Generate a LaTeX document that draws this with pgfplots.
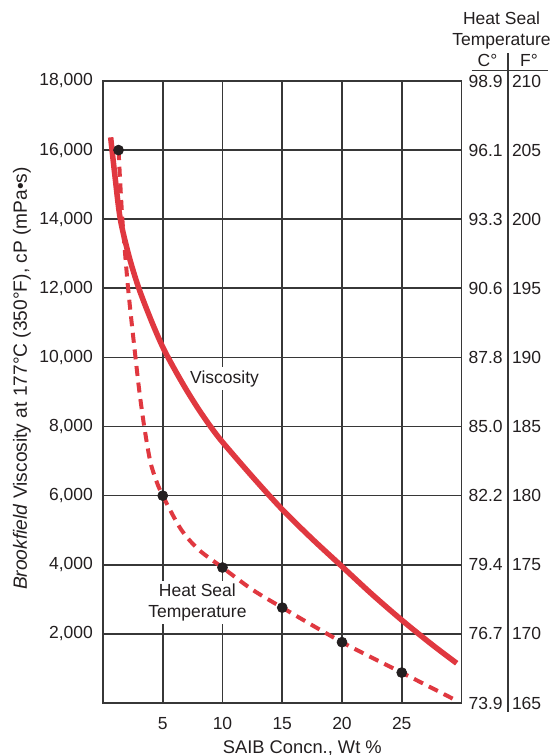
\documentclass[border=0pt]{standalone}
\usepackage{pgfplots}
\pgfplotsset{compat=1.18}
\usepackage{pgfplotstable}
\usepackage{fontspec}
\setmainfont{Liberation Sans}

\definecolor{curvered}{RGB}{224,56,64}
\definecolor{ink}{RGB}{35,31,32}
\definecolor{rulegray}{RGB}{55,55,55}

% Brookfield viscosity at 177 C, cP
\pgfplotstableread{
x     visc
0.64  16370
1.0   15250
1.45  14000
2.2   12900
3.0   12000
4.0   11100
5.0   10300
6.0   9650
7.0   9050
8.0   8500
9.0   8000
10.0  7550
12.5  6550
15.0  5600
17.5  4750
20.0  3950
22.5  3150
25.0  2400
27.5  1700
29.6  1150
}\viscosity

% Heat seal temperature, deg F (smooth trace)
\pgfplotstableread{
x     F
1.30  205.0
1.45  202.5
1.62  200.0
1.85  197.5
2.10  195.0
2.40  192.5
2.72  190.0
3.05  187.5
3.45  185.0
3.95  182.5
4.45  181.1
5.00  180.0
6.50  177.6
8.00  176.1
10.0  174.8
12.5  173.2
15.0  171.9
20.0  169.4
25.0  167.2
29.3  165.3
}\sealcurve

% Measured heat seal temperatures, deg F
\pgfplotstableread{
x     F
1.3   205.0
5     180.0
10    174.8
15    171.9
20    169.4
25    167.2
}\sealpoints

\pgfplotsset{
  chartbox/.style={
    at={(0,0)}, anchor=south west,
    scale only axis, width=215.1pt, height=373.2pt,
    xmin=0, xmax=30,
    /pgf/number format/assume math mode=true,
    font=\fontsize{10.5}{12.6}\selectfont,
  },
  sideaxis/.style={
    chartbox,
    ymin=165, ymax=210,
    hide x axis,
    axis y line*=right,
    y axis line style={draw=none},
    ytick={165,170,...,210},
    ytick style={draw=none},
  },
}

\begin{document}
\begin{tikzpicture}[font=\fontsize{10.5}{12.6}\selectfont, text=ink]
\path[use as bounding box] (-61.8pt,-31.2pt) rectangle (271.2pt,421.8pt);

\begin{axis}[
  chartbox, name=main,
  ymin=0, ymax=18000,
  scaled y ticks=false,
  xtick={5,10,15,20,25},
  ytick={2000,4000,...,18000},
  yticklabels={{2,000},{4,000},{6,000},{8,000},{10,000},{12,000},{14,000},{16,000},{18,000}},
  xmajorgrids, ymajorgrids,
  major grid style={draw=rulegray, line width=1pt},
  axis line style={rulegray, line width=1pt},
  tick style={draw=none},
  xticklabel style={yshift=-5pt},
  yticklabel style={xshift=-2.5pt},
  xlabel={SAIB Concn., Wt \%},
  ylabel={\textit{Brookfield} Viscosity at 177°C (350°F), cP (mPa•s)},
  xlabel style={at={(axis description cs:0.556,0)}, anchor=north, yshift=-19pt,
                font=\fontsize{11}{13}\selectfont},
  ylabel style={at={(axis description cs:-0.226,0.5217)}, anchor=center,
                font=\fontsize{11.5}{13.5}\selectfont},
]
  % white boxes behind the curve names go down first
  \node[fill=white, inner sep=2pt] at (axis cs:10.17,9380) {Viscosity};
  \node[fill=white, inner sep=1.5pt, align=center] at (axis cs:7.9,2908) {Heat Seal\\Temperature};

  % heat seal trace and readings, on the viscosity scale (5 F per 2,000 cP)
  \addplot[curvered, line width=2.4pt, dash pattern=on 6pt off 4pt, smooth]
    table[x=x, y expr=400*(\thisrow{F}-165)] {\sealcurve};
  \addplot[curvered, line width=3.3pt, smooth]
    table[x=x, y=visc] {\viscosity};
  \addplot[only marks, mark=*, mark size=3pt, color=ink]
    table[x=x, y expr=400*(\thisrow{F}-165)] {\sealpoints};
\end{axis}

% Celsius column
\begin{axis}[sideaxis,
  yticklabels={73.9,76.7,79.4,82.2,85.0,87.8,90.6,93.3,96.1,98.9},
  yticklabel style={anchor=west, inner sep=0pt, xshift=4.1pt},
]
\end{axis}

% Fahrenheit column
\begin{axis}[sideaxis,
  yticklabels={165,170,175,180,185,190,195,200,205,210},
  yticklabel style={anchor=west, inner sep=0pt, xshift=30.1pt},
]
\end{axis}

% header and divider of the temperature scale
\draw[rulegray, line width=1pt]
  ([xshift=28.1pt, yshift=16.5pt]main.north east) -- ([xshift=28.1pt, yshift=-5.5pt]main.south east);
\draw[rulegray, line width=1pt]
  ([xshift=6.1pt, yshift=6.3pt]main.north east) -- ([xshift=52.1pt, yshift=6.3pt]main.north east);
\node at ([xshift=15.6pt, yshift=12.3pt]main.north east) {C°};
\node at ([xshift=40.5pt, yshift=12.3pt]main.north east) {F°};
\node[align=center] at ([xshift=24pt, yshift=30.3pt]main.north east) {Heat Seal\\Temperature};
\end{tikzpicture}
\end{document}
